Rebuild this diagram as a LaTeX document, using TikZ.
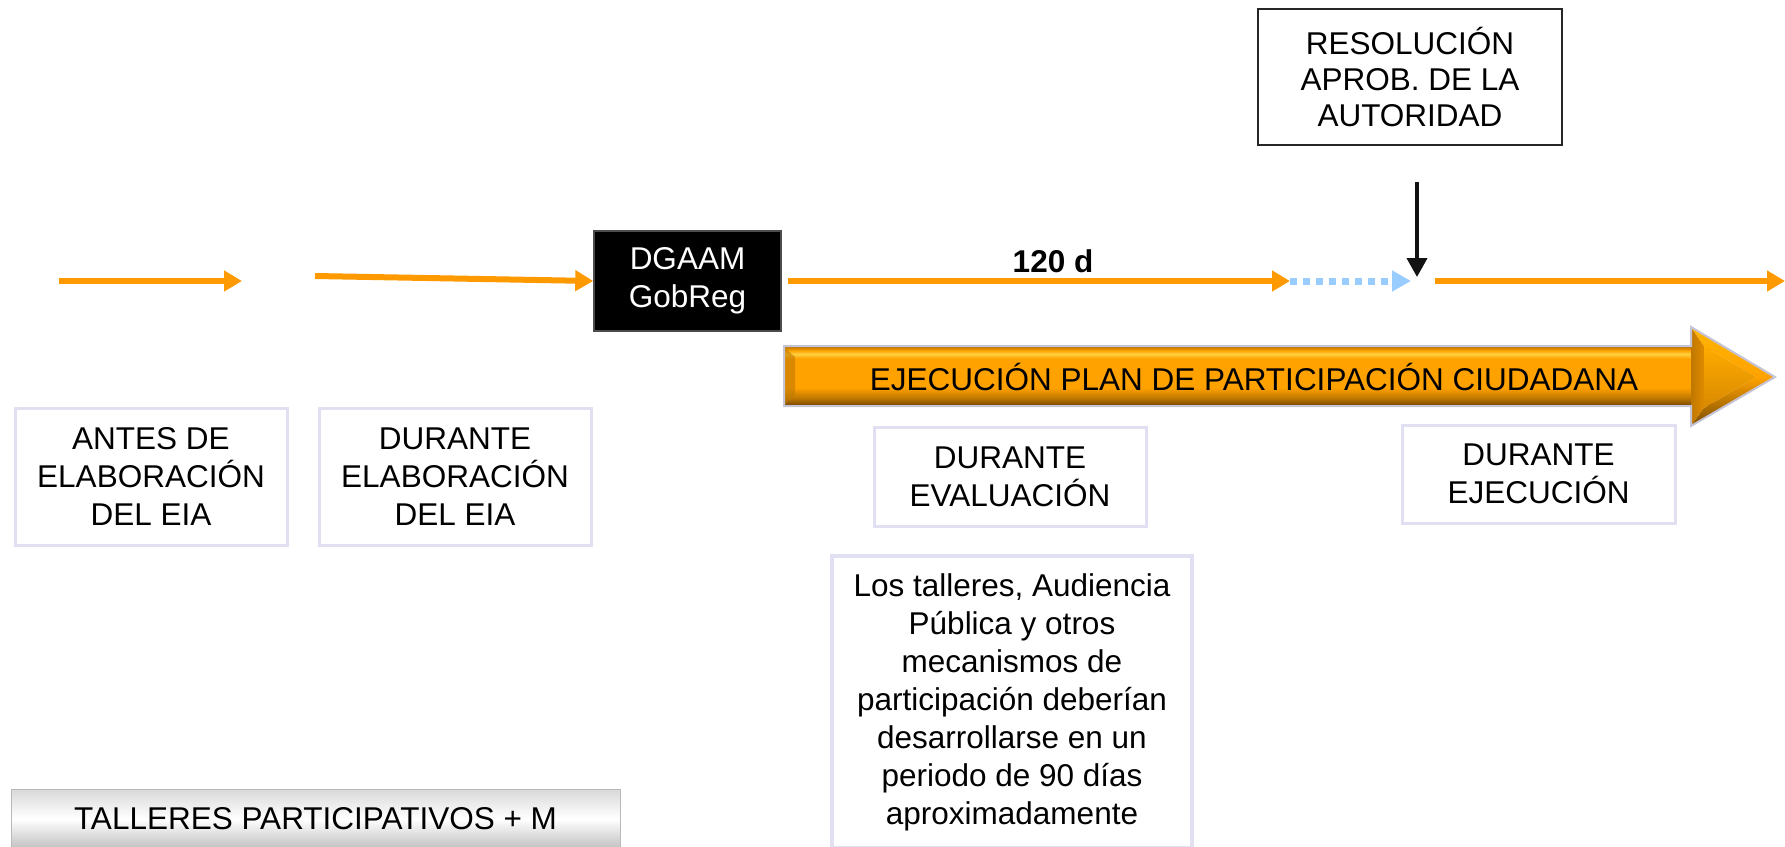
\documentclass[tikz,border=0pt]{standalone}
\usepackage{fontspec}
\setmainfont{Liberation Sans}
\usetikzlibrary{arrows.meta}
\definecolor{orline}{HTML}{FF9900}
\definecolor{lav}{HTML}{E0E0F2}
\definecolor{dotblue}{HTML}{99CCFF}
\definecolor{orA}{HTML}{FFA200}
\definecolor{yel}{HTML}{FFD040}
\definecolor{brn}{HTML}{7A4C00}
\definecolor{dkor}{HTML}{C07800}
\definecolor{hdtop}{HTML}{E08A00}
\definecolor{arrowedge}{HTML}{C4C4D6}
\pgfdeclareverticalshading{bodysh}{100bp}{color(0bp)=(brn); color(25bp)=(brn); color(31bp)=(dkor); color(40bp)=(orA); color(65bp)=(orA); color(69bp)=(yel); color(72bp)=(orA); color(75bp)=(dkor); color(100bp)=(dkor)}
\tikzset{
  txt/.style={font=\fontsize{31.5}{38}\selectfont, align=center, inner sep=0pt},
  lavbox/.style={txt, draw=lav, line width=3pt, minimum width=272pt, minimum height=137pt},
  orarrow/.style={draw=orline, line width=6pt, -{Triangle[length=18pt,width=20pt]}},
  bluedot/.style={draw=dotblue, line width=7pt, dash pattern=on 7pt off 6pt, -{Triangle[length=19pt,width=20pt]}},
  blkarrow/.style={draw=black!93, line width=4pt, -{Triangle[length=19pt,width=20pt]}}
}
\begin{document}
\begin{tikzpicture}[x=1pt,y=-1pt]
\useasboundingbox (0,0) rectangle (1785,846);
\fill[white] (0,0) rectangle (1785,846);

% boxes
\node[lavbox] (antes) at (151,476.5) {ANTES DE\\ELABORACIÓN\\DEL EIA};
\node[lavbox] (durel) at (455,476.5) {DURANTE\\ELABORACIÓN\\DEL EIA};
\node[lavbox, minimum height=99pt] (eval) at (1010,477) {DURANTE\\EVALUACIÓN};
\node[lavbox, minimum width=273pt, minimum height=98pt] (ejec) at (1538.5,474) {DURANTE\\EJECUCIÓN};
\node[lavbox, line width=4pt, minimum width=360pt, minimum height=292pt] (info) at (1012,702) {Los talleres, Audiencia\\Pública y otros\\mecanismos de\\participación deberían\\desarrollarse en un\\periodo de 90 días\\aproximadamente};
\node[txt, font=\fontsize{31.5}{36}\selectfont, draw=black!85, line width=2.5pt, minimum width=304pt, minimum height=136pt] (res) at (1410,77) {RESOLUCIÓN\\APROB. DE LA\\AUTORIDAD};
\node[txt, fill=black, draw=gray!60!black, line width=1.5pt, text=white, minimum width=187pt, minimum height=100pt] (dg) at (687.5,281) {DGAAM\\GobReg};
\node[txt, draw=gray!55, line width=1pt, top color=gray!30, bottom color=gray!50, middle color=white, minimum width=609pt, minimum height=60pt] (tal) at (315.5,819) {TALLERES PARTICIPATIVOS + M};

% big 3D arrow: body
\path[shading=bodysh] (784,347) rectangle (1712,405);
\fill[dkor, opacity=0.6] (784,347) -- (795,357) -- (795,395) -- (784,405) -- cycle;
% head facets
\path[left color=dkor, right color=hdtop] (1691,327) -- (1704,346) -- (1704,408) -- (1691,426) -- cycle;
\path[top color=orA!80!yellow, bottom color=orA] (1691,327) -- (1775,377) -- (1756,377) -- (1704,346) -- cycle;
\path[top color=orA, bottom color=brn] (1691,426) -- (1775,377) -- (1756,377) -- (1704,408) -- cycle;
\path[top color=orA!90!yellow, bottom color=orA!85!black] (1704,346) -- (1756,377) -- (1704,408) -- cycle;
\draw[line width=2pt, draw=arrowedge, line join=miter] (784,346) -- (1691,346) -- (1691,327) -- (1775,377) -- (1691,426) -- (1691,406) -- (784,406) -- cycle;
\node[txt] (ejplan) at (1254,377) {EJECUCIÓN PLAN DE PARTICIPACIÓN CIUDADANA};

% timeline arrows
\coordinate (p1s) at (59,281);
\coordinate (p1e) at (242,281);
\coordinate (p2s) at (315,276);
\coordinate (p3e) at (1290,281);
\coordinate (p4e) at (1411,281);
\coordinate (bt) at (1417,182);
\coordinate (bb) at (1417,277);
\coordinate (p5s) at (1435,281);
\coordinate (p5e) at (1785,281);
\draw[orarrow] (p1s) -- (p1e);
\draw[orarrow] (p2s) -- (dg.west);
\draw[orarrow, shorten <=6pt] (dg.east) -- (p3e);
\draw[bluedot] (p3e) -- (p4e);
\draw[blkarrow] (bt) -- (bb);
\draw[orarrow] (p5s) -- (p5e);
\node[txt, font=\fontsize{31.5}{38}\selectfont\bfseries] (d120) at (1053,261) {120 d};
\end{tikzpicture}
\end{document}
